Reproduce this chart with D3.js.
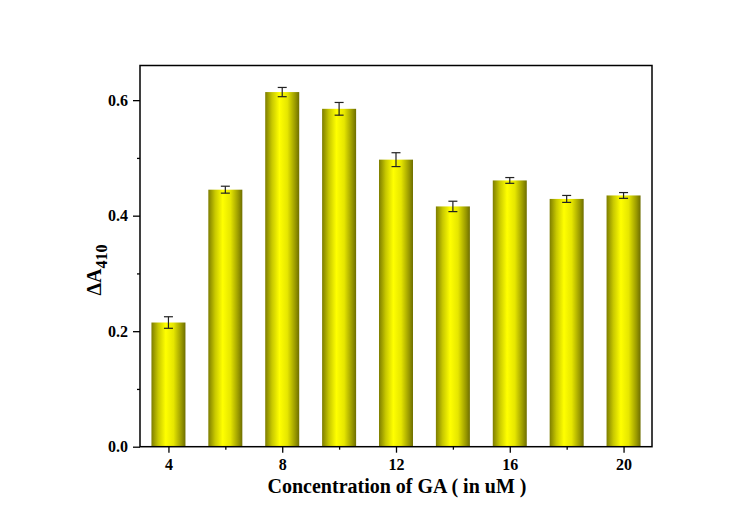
<!DOCTYPE html>
<html>
<head>
<meta charset="UTF-8">
<title>GA concentration</title>
<script src="https://cdn.jsdelivr.net/npm/d3@7"></script>
<style type="text/css">
body { margin: 0; background: #fff; }
svg text { font-family: "Liberation Serif", "Times New Roman", serif; font-weight: bold; fill: #000; }
</style>
</head>
<body>
<div class="chart"></div>
<script>
// data
var conc     = [4, 6, 8, 10, 12, 14, 16, 18, 20];
var deltaA   = [0.215, 0.445, 0.614, 0.585, 0.497, 0.416, 0.461, 0.429, 0.435];
var errs     = [0.010, 0.006, 0.008, 0.011, 0.012, 0.009, 0.005, 0.006, 0.005];
var xTicks   = [4, 8, 12, 16, 20];
var xMinor   = [6, 10, 14, 18];
var yTicks   = [0.0, 0.2, 0.4, 0.6];
var yMinor   = [0.1, 0.3, 0.5];

var width = 745, height = 526;
var mLeft = 140, mRight = 652, mTop = 65.5, mBottom = 446.7;

var svg = d3.select(".chart").append("svg")
    .attr("width", width)
    .attr("height", height);

var x = d3.scaleLinear().domain([3, 21]).range([mLeft, mRight]);
var y = d3.scaleLinear().domain([0, 0.66]).range([mBottom, mTop]);

// bar gradient: olive edges, bright yellow centre
var grad = svg.append("defs").append("linearGradient")
    .attr("id", "barGrad")
    .attr("x1", "0%").attr("x2", "100%").attr("y1", "0%").attr("y2", "0%");
grad.append("stop").attr("offset", "0%").attr("stop-color", "#7d7d00");
grad.append("stop").attr("offset", "20%").attr("stop-color", "#c8c800");
grad.append("stop").attr("offset", "42%").attr("stop-color", "#ffff00");
grad.append("stop").attr("offset", "65%").attr("stop-color", "#e6e600");
grad.append("stop").attr("offset", "88%").attr("stop-color", "#9a9a00");
grad.append("stop").attr("offset", "100%").attr("stop-color", "#6e6e00");

var barW = 34;

svg.selectAll(".bar")
    .data(conc)
    .enter()
    .append("rect")
    .attr("class", "bar")
    .attr("x", function (d) { return x(d) - barW / 2; })
    .attr("y", function (d, i) { return y(deltaA[i]); })
    .attr("width", barW)
    .attr("height", function (d, i) { return y(0) - y(deltaA[i]); })
    .attr("fill", "url(#barGrad)");

// error bars
var eb = svg.selectAll(".err")
    .data(conc)
    .enter()
    .append("g")
    .attr("class", "err")
    .attr("stroke", "#222")
    .attr("stroke-width", 1.2);
eb.append("line")
    .attr("x1", function (d) { return x(d); })
    .attr("x2", function (d) { return x(d); })
    .attr("y1", function (d, i) { return y(deltaA[i] + errs[i]); })
    .attr("y2", function (d, i) { return y(deltaA[i] - errs[i]); });
eb.append("line")
    .attr("x1", function (d) { return x(d) - 4.5; })
    .attr("x2", function (d) { return x(d) + 4.5; })
    .attr("y1", function (d, i) { return y(deltaA[i] + errs[i]); })
    .attr("y2", function (d, i) { return y(deltaA[i] + errs[i]); });
eb.append("line")
    .attr("x1", function (d) { return x(d) - 4.5; })
    .attr("x2", function (d) { return x(d) + 4.5; })
    .attr("y1", function (d, i) { return y(deltaA[i] - errs[i]); })
    .attr("y2", function (d, i) { return y(deltaA[i] - errs[i]); });

// axes
svg.append("g")
    .attr("transform", "translate(0," + mBottom + ")")
    .call(d3.axisBottom(x).tickValues(xTicks).tickSize(6).tickPadding(6).tickFormat(d3.format("d")));
svg.append("g")
    .attr("transform", "translate(0," + mBottom + ")")
    .call(d3.axisBottom(x).tickValues(xMinor).tickSize(3).tickFormat(""));

svg.append("g")
    .attr("transform", "translate(" + mLeft + ",0)")
    .call(d3.axisLeft(y).tickValues(yTicks).tickSize(7).tickPadding(5).tickFormat(d3.format(".1f")));
svg.append("g")
    .attr("transform", "translate(" + mLeft + ",0)")
    .call(d3.axisLeft(y).tickValues(yMinor).tickSize(3).tickFormat(""));

svg.selectAll(".domain").remove();
svg.selectAll(".tick line").attr("stroke", "#000").attr("stroke-width", 1.3);
svg.selectAll(".tick text").style("font-size", "16px");

// frame
svg.append("rect")
    .attr("x", mLeft)
    .attr("y", mTop)
    .attr("width", mRight - mLeft)
    .attr("height", mBottom - mTop)
    .attr("fill", "none")
    .attr("stroke", "#000")
    .attr("stroke-width", 1.5);

// axis titles
svg.append("text")
    .attr("x", 397)
    .attr("y", 493)
    .attr("text-anchor", "middle")
    .style("font-size", "20px")
    .text("Concentration of GA ( in uM )");

var yl = svg.append("text")
    .attr("transform", "translate(101,270) rotate(-90)")
    .attr("text-anchor", "middle")
    .style("font-size", "20px");
yl.append("tspan").text("\u0394A");
yl.append("tspan").attr("dy", 6).style("font-size", "16px").text("410");
</script>
</body>
</html>
